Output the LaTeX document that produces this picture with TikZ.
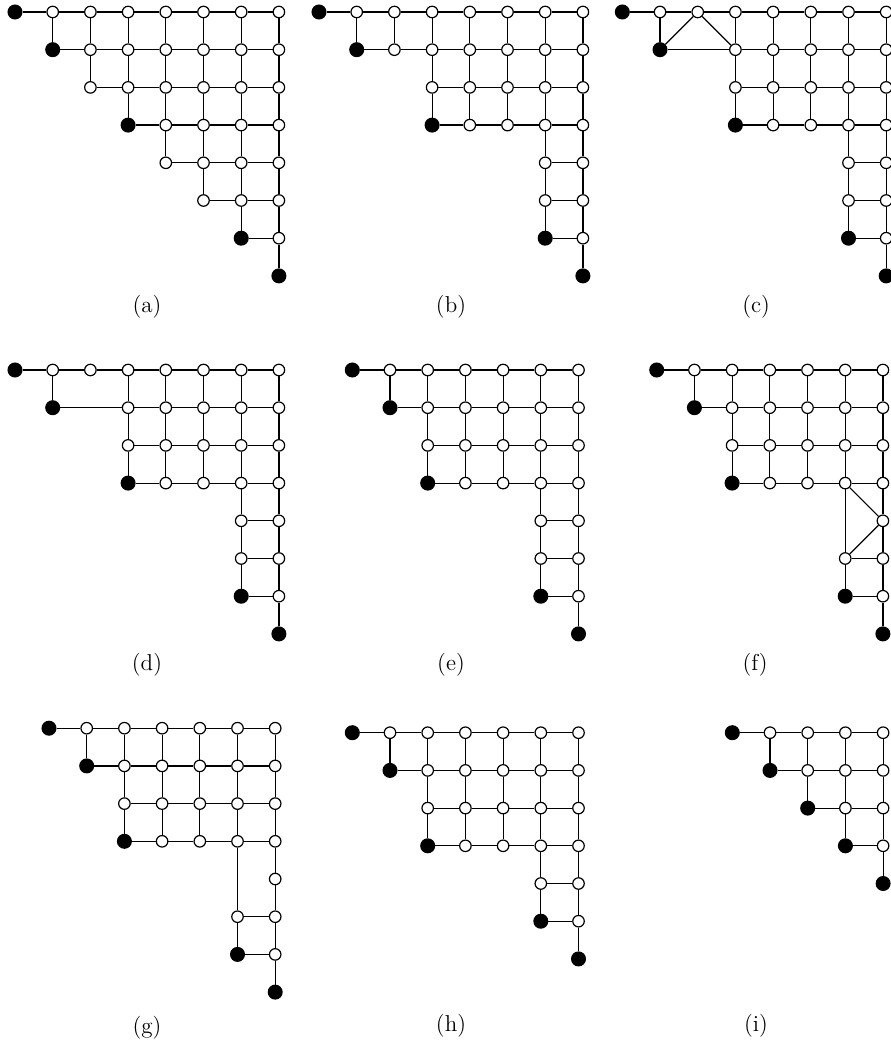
\documentclass[tikz,border=0pt]{standalone}
\tikzset{
  edge/.style={line width=0.6pt},
  wv/.style={circle, draw, line width=0.6pt, fill=white, inner sep=0pt, minimum size=5.75pt},
  bv/.style={circle, draw, line width=0.6pt, fill=black, inner sep=0pt, minimum size=6.9pt},
  sublabel/.style={font=\fontsize{11.5}{14}\selectfont, inner sep=0pt},
  panel/.style={x=18.85pt, y=-18.85pt}
}
% white vertices: prefix, row, first column, last column
\newcommand\whites[4]{\foreach \cc in {#3,...,#4}{\node[wv] (#1#2\cc) at (\cc,#2) {};}}
% black vertex: prefix, row, column
\newcommand\blk[3]{\node[bv] (#1#2#3) at (#3,#2) {};}
% horizontal chain of edges: prefix, row, first column, last column
\newcommand\gridh[4]{\foreach \cc in {#3,...,#4}{\ifnum\cc<#4\relax
  \pgfmathtruncatemacro\nn{\cc+1}\draw[edge] (#1#2\cc) -- (#1#2\nn);\fi}}
% vertical chain of edges: prefix, column, first row, last row
\newcommand\gridv[4]{\foreach \rr in {#3,...,#4}{\ifnum\rr<#4\relax
  \pgfmathtruncatemacro\nn{\rr+1}\draw[edge] (#1\rr#2) -- (#1\nn#2);\fi}}
\begin{document}
\begin{tikzpicture}[x=0.5pt, y=-0.5pt]
\useasboundingbox (0,0) rectangle (890,1042);

% (a)
\begin{scope}[shift={(15,12)}, panel]
  \whites{a}{0}{1}{7} \whites{a}{1}{2}{7} \whites{a}{2}{2}{7} \whites{a}{3}{4}{7}
  \whites{a}{4}{4}{7} \whites{a}{5}{5}{7} \whites{a}{6}{7}{7}
  \blk{a}{0}{0} \blk{a}{1}{1} \blk{a}{3}{3} \blk{a}{6}{6} \blk{a}{7}{7}
  \gridh{a}{0}{0}{7} \gridh{a}{1}{1}{7} \gridh{a}{2}{2}{7} \gridh{a}{3}{3}{7}
  \gridh{a}{4}{4}{7} \gridh{a}{5}{5}{7} \gridh{a}{6}{6}{7}
  \gridv{a}{1}{0}{1} \gridv{a}{2}{0}{2} \gridv{a}{3}{0}{3} \gridv{a}{4}{0}{4}
  \gridv{a}{5}{0}{5} \gridv{a}{6}{0}{6} \gridv{a}{7}{0}{7}
\end{scope}

% (b)
\begin{scope}[shift={(319,12)}, panel]
  \whites{b}{0}{1}{7} \whites{b}{1}{2}{7} \whites{b}{2}{3}{7} \whites{b}{3}{4}{7}
  \whites{b}{4}{6}{7} \whites{b}{5}{6}{7} \whites{b}{6}{7}{7}
  \blk{b}{0}{0} \blk{b}{1}{1} \blk{b}{3}{3} \blk{b}{6}{6} \blk{b}{7}{7}
  \gridh{b}{0}{0}{7} \gridh{b}{1}{1}{7} \gridh{b}{2}{3}{7} \gridh{b}{3}{3}{7}
  \gridh{b}{4}{6}{7} \gridh{b}{5}{6}{7} \gridh{b}{6}{6}{7}
  \gridv{b}{1}{0}{1} \gridv{b}{2}{0}{1} \gridv{b}{3}{0}{3} \gridv{b}{4}{0}{3}
  \gridv{b}{5}{0}{3} \gridv{b}{6}{0}{6} \gridv{b}{7}{0}{7}
\end{scope}

% (c)
\begin{scope}[shift={(622.3,12)}, panel]
  \whites{c}{0}{1}{7} \whites{c}{1}{3}{7} \whites{c}{2}{3}{7} \whites{c}{3}{4}{7}
  \whites{c}{4}{6}{7} \whites{c}{5}{6}{7} \whites{c}{6}{7}{7}
  \blk{c}{0}{0} \blk{c}{1}{1} \blk{c}{3}{3} \blk{c}{6}{6} \blk{c}{7}{7}
  \gridh{c}{0}{0}{7} \draw[edge] (c11) -- (c13); \gridh{c}{1}{3}{7}
  \gridh{c}{2}{3}{7} \gridh{c}{3}{3}{7}
  \gridh{c}{4}{6}{7} \gridh{c}{5}{6}{7} \gridh{c}{6}{6}{7}
  \draw[edge] (c11) -- (c02) -- (c13);
  \gridv{c}{1}{0}{1} \gridv{c}{3}{0}{3} \gridv{c}{4}{0}{3}
  \gridv{c}{5}{0}{3} \gridv{c}{6}{0}{6} \gridv{c}{7}{0}{7}
\end{scope}

% (d)
\begin{scope}[shift={(15,370)}, panel]
  \whites{d}{0}{1}{7} \whites{d}{1}{3}{7} \whites{d}{2}{3}{7} \whites{d}{3}{4}{7}
  \whites{d}{4}{6}{7} \whites{d}{5}{6}{7} \whites{d}{6}{7}{7}
  \blk{d}{0}{0} \blk{d}{1}{1} \blk{d}{3}{3} \blk{d}{6}{6} \blk{d}{7}{7}
  \gridh{d}{0}{0}{7} \draw[edge] (d11) -- (d13); \gridh{d}{1}{3}{7}
  \gridh{d}{2}{3}{7} \gridh{d}{3}{3}{7}
  \gridh{d}{4}{6}{7} \gridh{d}{5}{6}{7} \gridh{d}{6}{6}{7}
  \gridv{d}{1}{0}{1} \gridv{d}{3}{0}{3} \gridv{d}{4}{0}{3}
  \gridv{d}{5}{0}{3} \gridv{d}{6}{0}{6} \gridv{d}{7}{0}{7}
\end{scope}

% (e)
\begin{scope}[shift={(352.3,370)}, panel]
  \whites{e}{0}{1}{6} \whites{e}{1}{2}{6} \whites{e}{2}{2}{6} \whites{e}{3}{3}{6}
  \whites{e}{4}{5}{6} \whites{e}{5}{5}{6} \whites{e}{6}{6}{6}
  \blk{e}{0}{0} \blk{e}{1}{1} \blk{e}{3}{2} \blk{e}{6}{5} \blk{e}{7}{6}
  \gridh{e}{0}{0}{6} \gridh{e}{1}{1}{6} \gridh{e}{2}{2}{6} \gridh{e}{3}{2}{6}
  \gridh{e}{4}{5}{6} \gridh{e}{5}{5}{6} \gridh{e}{6}{5}{6}
  \gridv{e}{1}{0}{1} \gridv{e}{2}{0}{3} \gridv{e}{3}{0}{3} \gridv{e}{4}{0}{3}
  \gridv{e}{5}{0}{6} \gridv{e}{6}{0}{7}
\end{scope}

% (f)
\begin{scope}[shift={(656.7,370)}, panel]
  \whites{f}{0}{1}{6} \whites{f}{1}{2}{6} \whites{f}{2}{2}{6} \whites{f}{3}{3}{6}
  \whites{f}{4}{6}{6} \whites{f}{5}{5}{6} \whites{f}{6}{6}{6}
  \blk{f}{0}{0} \blk{f}{1}{1} \blk{f}{3}{2} \blk{f}{6}{5} \blk{f}{7}{6}
  \gridh{f}{0}{0}{6} \gridh{f}{1}{1}{6} \gridh{f}{2}{2}{6} \gridh{f}{3}{2}{6}
  \gridh{f}{5}{5}{6} \gridh{f}{6}{5}{6}
  \gridv{f}{1}{0}{1} \gridv{f}{2}{0}{3} \gridv{f}{3}{0}{3} \gridv{f}{4}{0}{3}
  \gridv{f}{5}{0}{3} \draw[edge] (f35) -- (f55) -- (f65);
  \draw[edge] (f35) -- (f46) -- (f55);
  \gridv{f}{6}{0}{7}
\end{scope}

% (g)
\begin{scope}[shift={(49,728.2)}, panel]
  \whites{g}{0}{1}{6} \whites{g}{1}{2}{6} \whites{g}{2}{2}{6} \whites{g}{3}{3}{6}
  \whites{g}{4}{6}{6} \whites{g}{5}{5}{6} \whites{g}{6}{6}{6}
  \blk{g}{0}{0} \blk{g}{1}{1} \blk{g}{3}{2} \blk{g}{6}{5} \blk{g}{7}{6}
  \gridh{g}{0}{0}{6} \gridh{g}{1}{1}{6} \gridh{g}{2}{2}{6} \gridh{g}{3}{2}{6}
  \gridh{g}{5}{5}{6} \gridh{g}{6}{5}{6}
  \gridv{g}{1}{0}{1} \gridv{g}{2}{0}{3} \gridv{g}{3}{0}{3} \gridv{g}{4}{0}{3}
  \gridv{g}{5}{0}{3} \draw[edge] (g35) -- (g55) -- (g65);
  \gridv{g}{6}{0}{7}
\end{scope}

% (h)
\begin{scope}[shift={(352.3,732.7)}, panel]
  \whites{h}{0}{1}{6} \whites{h}{1}{2}{6} \whites{h}{2}{2}{6} \whites{h}{3}{3}{6}
  \whites{h}{4}{5}{6} \whites{h}{5}{6}{6}
  \blk{h}{0}{0} \blk{h}{1}{1} \blk{h}{3}{2} \blk{h}{5}{5} \blk{h}{6}{6}
  \gridh{h}{0}{0}{6} \gridh{h}{1}{1}{6} \gridh{h}{2}{2}{6} \gridh{h}{3}{2}{6}
  \gridh{h}{4}{5}{6} \gridh{h}{5}{5}{6}
  \gridv{h}{1}{0}{1} \gridv{h}{2}{0}{3} \gridv{h}{3}{0}{3} \gridv{h}{4}{0}{3}
  \gridv{h}{5}{0}{5} \gridv{h}{6}{0}{6}
\end{scope}

% (i)
\begin{scope}[shift={(732.3,732.7)}, panel]
  \whites{i}{0}{1}{4} \whites{i}{1}{2}{4} \whites{i}{2}{3}{4} \whites{i}{3}{4}{4}
  \blk{i}{0}{0} \blk{i}{1}{1} \blk{i}{2}{2} \blk{i}{3}{3} \blk{i}{4}{4}
  \gridh{i}{0}{0}{4} \gridh{i}{1}{1}{4} \gridh{i}{2}{2}{4} \gridh{i}{3}{3}{4}
  \gridv{i}{1}{0}{1} \gridv{i}{2}{0}{2} \gridv{i}{3}{0}{3} \gridv{i}{4}{0}{4}
\end{scope}

% sub-figure captions
\node[sublabel] (la) at (147,306.5) {(a)};
\node[sublabel] (lb) at (451,306.5) {(b)};
\node[sublabel] (lc) at (756,306.5) {(c)};
\node[sublabel] (ld) at (147,665) {(d)};
\node[sublabel] (le) at (451,665) {(e)};
\node[sublabel] (lf) at (755,665) {(f)};
\node[sublabel] (lg) at (147,1028) {(g)};
\node[sublabel] (lh) at (451,1025.8) {(h)};
\node[sublabel] (li) at (756,1025.8) {(i)};
\end{tikzpicture}
\end{document}
